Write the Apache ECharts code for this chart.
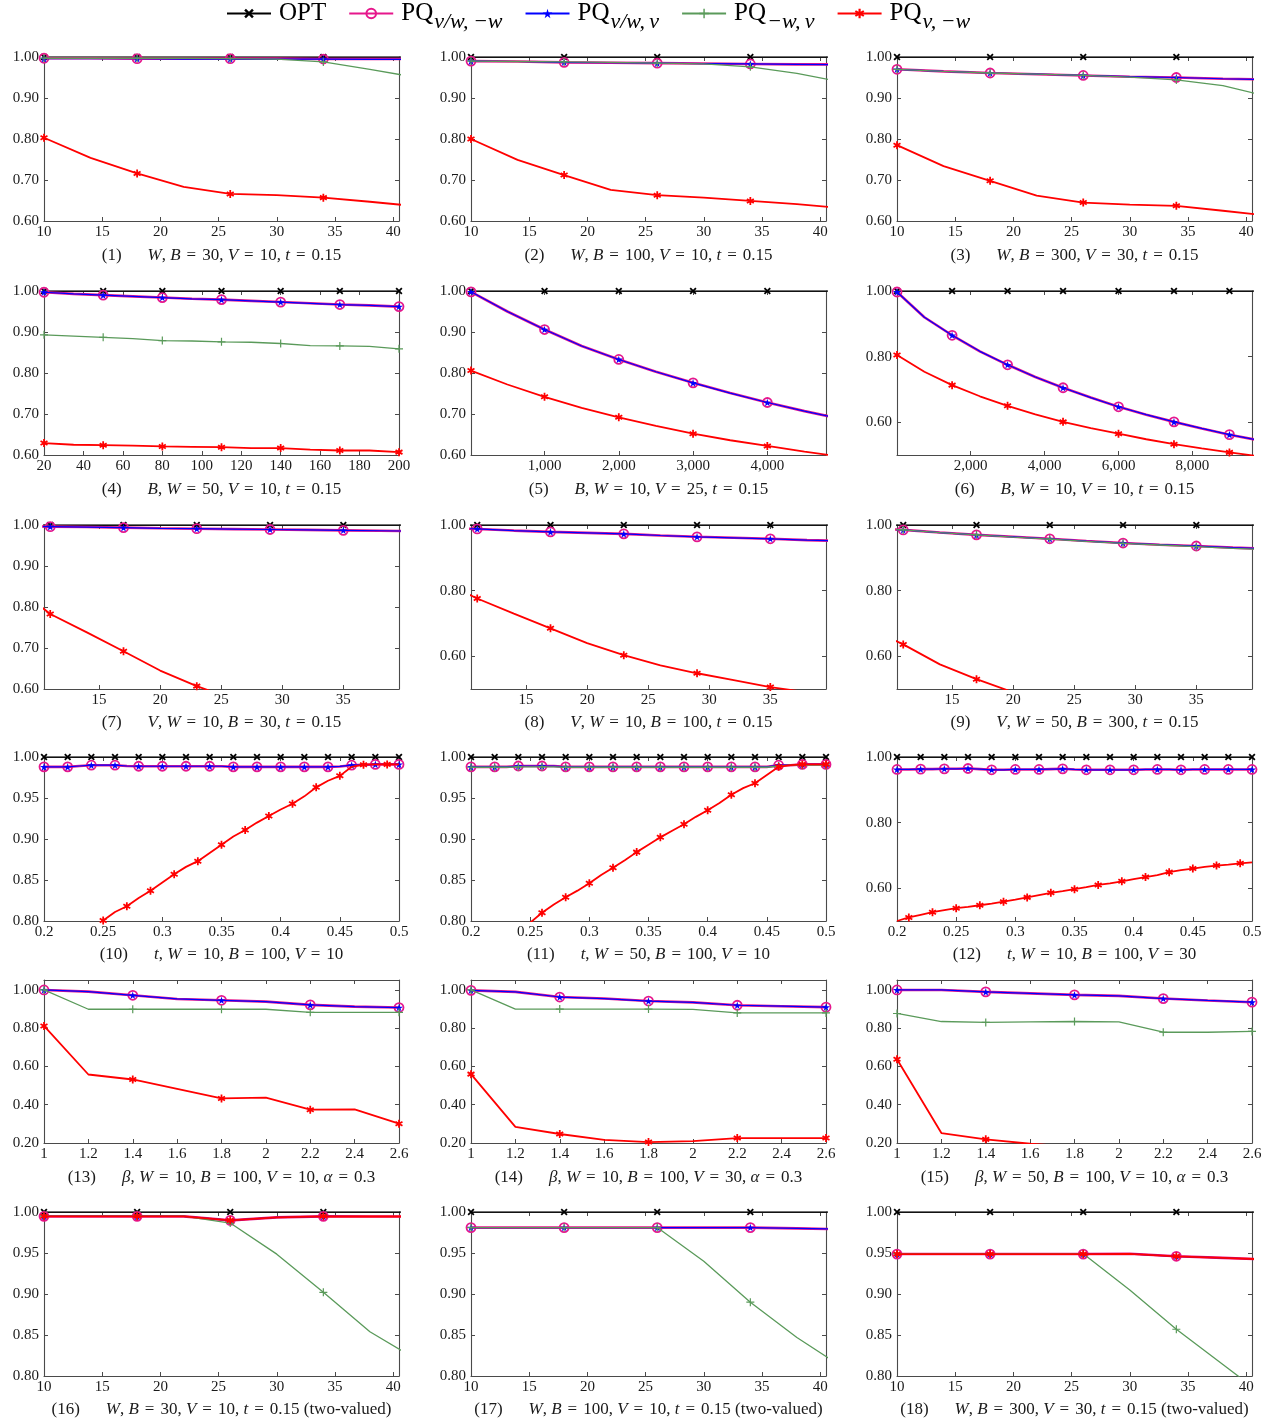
<!DOCTYPE html>
<html><head><meta charset="utf-8">
<script src="https://cdn.jsdelivr.net/npm/echarts@6/dist/echarts.min.js"></script>
<style>html,body{margin:0;padding:0;background:#fff}#c{width:1278px;height:1424px}</style>
</head><body><div id="c"></div>
<script>
// ---------- x values ----------
const xW = [10,14,18,22,26,30,34,38,42];
const xB4 = [20,35,50,65,80,95,110,125,140,155,170,185,200];
const xB5 = [10,500,1000,1500,2000,2500,3000,3500,4000,4500,5000];
const xB6 = [10,750,1500,2250,3000,3750,4500,5250,6000,6750,7500,8250,9000,9750];
const xV = [8,11,14,17,20,23,26,29,32,35,38,41];
const xT = [0.20,0.21,0.22,0.23,0.24,0.25,0.26,0.27,0.28,0.29,0.30,0.31,0.32,0.33,0.34,0.35,0.36,0.37,0.38,0.39,0.40,0.41,0.42,0.43,0.44,0.45,0.46,0.47,0.48,0.49,0.50];
const xBeta = [1,1.2,1.4,1.6,1.8,2,2.2,2.4,2.6];

// ---------- tick labels ----------
const tickW = [10,15,20,25,30,35,40];
const tickB4 = [20,40,60,80,100,120,140,160,180,200];
const tickB5 = [1000,2000,3000,4000];
const tickB6 = [2000,4000,6000,8000];
const tickV = [15,20,25,30,35];
const tickT = [0.2,0.25,0.3,0.35,0.4,0.45,0.5];
const tickBeta = [1,1.2,1.4,1.6,1.8,2,2.2,2.4,2.6];
const tickY60 = [0.6,0.7,0.8,0.9,1.0];
const tickY50 = [0.6,0.8,1.0];
const tickY80 = [0.8,0.85,0.9,0.95,1.0];
const tickY20 = [0.2,0.4,0.6,0.8,1.0];

// ---------- series values ----------
const one = n => Array(n).fill(1.0);
// (1)
const p1_opt = [1,1,1,1,1,1,1,1,1];
const p1_mag = [0.997,0.997,0.996,0.996,0.996,0.996,0.995,0.995,0.995];
const p1_blu = [0.996,0.996,0.996,0.995,0.995,0.995,0.995,0.994,0.994];
const p1_grn = [0.997,0.997,0.997,0.997,0.996,0.995,0.988,0.970,0.950];
const p1_red = [0.803,0.754,0.716,0.683,0.666,0.663,0.657,0.647,0.636];
// (2)
const p2_opt = [1,1,1,1,1,1,1,1,1];
const p2_mag = [0.990,0.989,0.987,0.986,0.985,0.984,0.983,0.982,0.982];
const p2_blu = [0.990,0.989,0.987,0.986,0.985,0.984,0.983,0.982,0.981];
const p2_grn = [0.990,0.989,0.988,0.987,0.985,0.983,0.976,0.960,0.938];
const p2_red = [0.800,0.749,0.712,0.676,0.663,0.657,0.649,0.641,0.631];
// (3)
const p3_opt = [1,1,1,1,1,1,1,1,1];
const p3_mag = [0.970,0.965,0.961,0.958,0.955,0.952,0.950,0.947,0.945];
const p3_blu = [0.970,0.965,0.961,0.958,0.955,0.952,0.950,0.947,0.945];
const p3_grn = [0.970,0.965,0.961,0.958,0.955,0.951,0.944,0.930,0.903];
const p3_red = [0.785,0.734,0.698,0.662,0.645,0.640,0.637,0.625,0.613];
// (4)
const p4_opt = [1,1,1,1,1,1,1,1,1,1,1,1,1];
const p4_mag = [0.997,0.993,0.990,0.987,0.984,0.981,0.979,0.976,0.973,0.970,0.967,0.965,0.962];
const p4_blu = [0.997,0.993,0.990,0.987,0.984,0.981,0.979,0.976,0.973,0.970,0.967,0.965,0.962];
const p4_grn = [0.893,0.890,0.887,0.884,0.879,0.878,0.876,0.875,0.872,0.867,0.866,0.865,0.859];
const p4_red = [0.629,0.625,0.624,0.623,0.621,0.620,0.619,0.617,0.617,0.613,0.611,0.611,0.607];
// (5)
const p5_opt = [1,1,1,1,1,1,1,1,1,1,1];
const p5_mag = [0.998,0.950,0.906,0.866,0.833,0.803,0.776,0.751,0.728,0.707,0.688];
const p5_blu = [0.998,0.950,0.906,0.866,0.833,0.803,0.776,0.751,0.728,0.707,0.688];
const p5_red = [0.806,0.772,0.742,0.715,0.692,0.671,0.652,0.636,0.622,0.608,0.596];
// (6)
const p6_opt = [1,1,1,1,1,1,1,1,1,1,1,1,1,1];
const p6_mag = [0.997,0.920,0.865,0.816,0.775,0.738,0.705,0.675,0.647,0.623,0.601,0.581,0.562,0.546];
const p6_blu = [0.997,0.920,0.865,0.816,0.775,0.738,0.705,0.675,0.647,0.623,0.601,0.581,0.562,0.546];
const p6_red = [0.805,0.754,0.713,0.679,0.650,0.624,0.601,0.582,0.565,0.548,0.533,0.520,0.508,0.497];
// (7)
const p7_opt = [1,1,1,1,1,1,1,1,1,1,1,1];
const p7_mag = [0.997,0.996,0.995,0.9935,0.992,0.991,0.990,0.989,0.988,0.987,0.986,0.985];
const p7_blu = [0.997,0.996,0.995,0.9935,0.992,0.991,0.990,0.989,0.988,0.987,0.986,0.985];
const p7_red = [0.854,0.783,0.738,0.692,0.645,0.607,0.575,0.545,0.520,0.500,0.480,0.460];
// (8)
const p8_opt = [1,1,1,1,1,1,1,1,1,1,1,1];
const p8_mag = [0.991,0.988,0.983,0.979,0.976,0.973,0.968,0.964,0.961,0.958,0.954,0.951];
const p8_blu = [0.991,0.988,0.983,0.979,0.976,0.973,0.968,0.964,0.961,0.958,0.954,0.951];
const p8_red = [0.830,0.776,0.730,0.685,0.640,0.603,0.572,0.548,0.527,0.506,0.490,0.475];
// (9)
const p9_opt = [1,1,1,1,1,1,1,1,1,1,1,1];
const p9_mag = [0.990,0.985,0.977,0.970,0.964,0.958,0.951,0.945,0.940,0.936,0.931,0.927];
const p9_blu = [0.990,0.985,0.977,0.970,0.964,0.958,0.951,0.945,0.940,0.936,0.931,0.927];
const p9_grn = [0.990,0.985,0.977,0.970,0.963,0.957,0.950,0.944,0.939,0.934,0.929,0.925];
const p9_red = [0.690,0.636,0.575,0.530,0.490,0.460,0.440,0.420,0.400,0.380,0.370,0.360];
// (10)
const p10_opt = one(31);
const p10_mag = [0.988,0.988,0.988,0.989,0.990,0.990,0.990,0.989,0.9887,0.9887,0.9887,0.9887,0.9887,0.9887,0.9887,0.9887,0.988,0.988,0.988,0.988,0.988,0.988,0.988,0.988,0.988,0.9885,0.990,0.9905,0.991,0.991,0.991];
const p10_blu = [0.988,0.988,0.988,0.989,0.990,0.990,0.990,0.989,0.9887,0.9887,0.9887,0.9887,0.9887,0.9887,0.9887,0.9887,0.988,0.988,0.988,0.988,0.988,0.988,0.988,0.988,0.988,0.9885,0.990,0.9905,0.991,0.991,0.991];
const p10_red = [0.720,0.735,0.750,0.765,0.785,0.8005,0.811,0.818,0.828,0.837,0.847,0.857,0.866,0.873,0.883,0.893,0.903,0.911,0.920,0.928,0.936,0.943,0.952,0.963,0.971,0.977,0.988,0.9906,0.991,0.991,0.991];
// (11)
const p11_opt = one(31);
const p11_mag = [0.988,0.988,0.988,0.988,0.989,0.989,0.989,0.989,0.988,0.988,0.988,0.988,0.988,0.988,0.988,0.988,0.988,0.988,0.988,0.988,0.988,0.988,0.988,0.988,0.988,0.988,0.990,0.990,0.991,0.991,0.991];
const p11_blu = [0.988,0.988,0.988,0.988,0.989,0.989,0.989,0.989,0.988,0.988,0.988,0.988,0.988,0.988,0.988,0.988,0.988,0.988,0.988,0.988,0.988,0.988,0.988,0.988,0.988,0.988,0.990,0.990,0.991,0.991,0.991];
const p11_grn = [0.9875,0.9875,0.9875,0.9875,0.988,0.988,0.988,0.988,0.9875,0.9875,0.9875,0.9875,0.9875,0.9875,0.9875,0.9875,0.9875,0.9875,0.9875,0.9875,0.9875,0.9875,0.9875,0.9875,0.9875,0.9875,0.989,0.990,0.990,0.990,0.990];
const p11_red = [0.730,0.745,0.760,0.775,0.788,0.798,0.810,0.820,0.829,0.837,0.846,0.856,0.865,0.874,0.884,0.893,0.902,0.910,0.918,0.927,0.935,0.944,0.954,0.962,0.968,0.978,0.988,0.990,0.991,0.991,0.991];
// (12)
const p12_opt = one(31);
const p12_mag = [0.962,0.962,0.963,0.963,0.964,0.964,0.965,0.963,0.961,0.961,0.962,0.962,0.962,0.963,0.964,0.962,0.961,0.961,0.961,0.961,0.961,0.962,0.962,0.962,0.961,0.962,0.962,0.962,0.962,0.962,0.962];
const p12_blu = [0.962,0.962,0.963,0.963,0.964,0.964,0.965,0.963,0.961,0.961,0.962,0.962,0.962,0.963,0.964,0.962,0.961,0.961,0.961,0.961,0.961,0.962,0.962,0.962,0.961,0.962,0.962,0.962,0.962,0.962,0.962];
const p12_red = [0.500,0.511,0.519,0.527,0.533,0.539,0.543,0.548,0.553,0.559,0.565,0.572,0.579,0.586,0.591,0.597,0.603,0.610,0.615,0.621,0.628,0.634,0.640,0.649,0.655,0.660,0.665,0.669,0.672,0.676,0.679];
// (13)
const p13_mag = [1.0,0.991,0.972,0.953,0.946,0.939,0.922,0.913,0.908];
const p13_blu = [1.0,0.991,0.972,0.953,0.946,0.939,0.922,0.913,0.908];
const p13_grn = [1.0,0.899,0.899,0.899,0.899,0.899,0.883,0.883,0.883];
const p13_red = [0.812,0.558,0.532,0.483,0.433,0.437,0.374,0.376,0.301];
// (14)
const p14_mag = [0.998,0.990,0.963,0.955,0.942,0.935,0.920,0.915,0.910];
const p14_blu = [0.998,0.990,0.963,0.955,0.942,0.935,0.920,0.915,0.910];
const p14_grn = [1.0,0.900,0.900,0.900,0.900,0.898,0.880,0.880,0.880];
const p14_red = [0.560,0.284,0.247,0.216,0.205,0.210,0.226,0.226,0.226];
// (15)
const p15_mag = [1.0,1.0,0.990,0.982,0.974,0.969,0.955,0.945,0.936];
const p15_blu = [1.0,1.0,0.990,0.982,0.974,0.969,0.955,0.945,0.936];
const p15_grn = [0.877,0.835,0.830,0.833,0.835,0.833,0.779,0.779,0.783];
const p15_red = [0.638,0.252,0.219,0.196,0.180,0.170,0.160,0.160,0.150];
// (16)
const p16_opt = [1,1,1,1,1,1,1,1,1];
const p16_mag = [0.9947,0.9947,0.9947,0.9947,0.9898,0.9935,0.9947,0.9945,0.9945];
const p16_blu = [0.9947,0.9947,0.9947,0.9947,0.9898,0.9935,0.9947,0.9945,0.9945];
const p16_grn = [0.995,0.995,0.995,0.995,0.9865,0.9486,0.902,0.854,0.820];
const p16_red = [0.9947,0.9947,0.9947,0.9947,0.9898,0.9935,0.9947,0.9945,0.9945];
// (17)
const p17_opt = [1,1,1,1,1,1,1,1,1];
const p17_mag = [0.981,0.981,0.981,0.981,0.981,0.981,0.981,0.980,0.979];
const p17_blu = [0.981,0.981,0.981,0.981,0.981,0.981,0.981,0.980,0.979];
const p17_grn = [0.981,0.981,0.981,0.981,0.981,0.940,0.890,0.847,0.810];
// (18)
const p18_opt = [1,1,1,1,1,1,1,1,1];
const p18_mag = [0.9487,0.9487,0.9487,0.9487,0.9487,0.949,0.946,0.944,0.942];
const p18_blu = [0.9487,0.9487,0.9487,0.9487,0.9487,0.949,0.946,0.944,0.942];
const p18_grn = [0.949,0.949,0.949,0.949,0.949,0.905,0.857,0.814,0.771];
const p18_red = [0.9487,0.9487,0.9487,0.9487,0.9487,0.949,0.946,0.944,0.942];

// ---------- captions ----------
const captions = [
 ['(1)','{i|W}, {i|B}{e|=}30, {i|V}{e|=}10, {i|t}{e|=}0.15'],
 ['(2)','{i|W}, {i|B}{e|=}100, {i|V}{e|=}10, {i|t}{e|=}0.15'],
 ['(3)','{i|W}, {i|B}{e|=}300, {i|V}{e|=}30, {i|t}{e|=}0.15'],
 ['(4)','{i|B}, {i|W}{e|=}50, {i|V}{e|=}10, {i|t}{e|=}0.15'],
 ['(5)','{i|B}, {i|W}{e|=}10, {i|V}{e|=}25, {i|t}{e|=}0.15'],
 ['(6)','{i|B}, {i|W}{e|=}10, {i|V}{e|=}10, {i|t}{e|=}0.15'],
 ['(7)','{i|V}, {i|W}{e|=}10, {i|B}{e|=}30, {i|t}{e|=}0.15'],
 ['(8)','{i|V}, {i|W}{e|=}10, {i|B}{e|=}100, {i|t}{e|=}0.15'],
 ['(9)','{i|V}, {i|W}{e|=}50, {i|B}{e|=}300, {i|t}{e|=}0.15'],
 ['(10)','{i|t}, {i|W}{e|=}10, {i|B}{e|=}100, {i|V}{e|=}10'],
 ['(11)','{i|t}, {i|W}{e|=}50, {i|B}{e|=}100, {i|V}{e|=}10'],
 ['(12)','{i|t}, {i|W}{e|=}10, {i|B}{e|=}100, {i|V}{e|=}30'],
 ['(13)','{i|β}, {i|W}{e|=}10, {i|B}{e|=}100, {i|V}{e|=}10, {i|α}{e|=}0.3'],
 ['(14)','{i|β}, {i|W}{e|=}10, {i|B}{e|=}100, {i|V}{e|=}30, {i|α}{e|=}0.3'],
 ['(15)','{i|β}, {i|W}{e|=}50, {i|B}{e|=}100, {i|V}{e|=}10, {i|α}{e|=}0.3'],
 ['(16)','{i|W}, {i|B}{e|=}30, {i|V}{e|=}10, {i|t}{e|=}0.15 (two-valued)'],
 ['(17)','{i|W}, {i|B}{e|=}100, {i|V}{e|=}10, {i|t}{e|=}0.15 (two-valued)'],
 ['(18)','{i|W}, {i|B}{e|=}300, {i|V}{e|=}30, {i|t}{e|=}0.15 (two-valued)']
];

const seriesNames = ['OPT','PQ_a','PQ_b','PQ_c','PQ_d'];
const legendLabels = {
  'OPT':'{m|OPT}',
  'PQ_a':'{m|PQ}{s|v/w,\u2009\u2212w}',
  'PQ_b':'{m|PQ}{s|v/w,\u2009v}',
  'PQ_c':'{m|PQ}{s|\u2212w,\u2009v}',
  'PQ_d':'{m|PQ}{s|v,\u2009\u2212w}'
};

// ---------- panels ----------
const panels = [
 {x:xW, xr:[10,40.5], xt:tickW, yr:[0.6,1.0], yt:tickY60, s:[p1_opt,p1_mag,p1_blu,p1_grn,p1_red]},
 {x:xW, xr:[10,40.5], xt:tickW, yr:[0.6,1.0], yt:tickY60, s:[p2_opt,p2_mag,p2_blu,p2_grn,p2_red]},
 {x:xW, xr:[10,40.5], xt:tickW, yr:[0.6,1.0], yt:tickY60, s:[p3_opt,p3_mag,p3_blu,p3_grn,p3_red]},
 {x:xB4, xr:[20,200], xt:tickB4, yr:[0.6,1.0], yt:tickY60, s:[p4_opt,p4_mag,p4_blu,p4_grn,p4_red]},
 {x:xB5, xr:[10,4790], xt:tickB5, yr:[0.6,1.0], yt:tickY60, comma:true, s:[p5_opt,p5_mag,p5_blu,null,p5_red]},
 {x:xB6, xr:[10,9610], xt:tickB6, yr:[0.5,1.0], yt:tickY50, comma:true, s:[p6_opt,p6_mag,p6_blu,null,p6_red]},
 {x:xV, xr:[10.49,39.56], xt:tickV, yr:[0.6,1.0], yt:tickY60, ph:[1,1,1,1,1], s:[p7_opt,p7_mag,p7_blu,null,p7_red]},
 {x:xV, xr:[10.49,39.56], xt:tickV, yr:[0.5,1.0], yt:tickY50, ph:[1,1,1,1,1], s:[p8_opt,p8_mag,p8_blu,null,p8_red]},
 {x:xV, xr:[10.49,39.56], xt:tickV, yr:[0.5,1.0], yt:tickY50, ph:[1,1,1,1,1], s:[p9_opt,p9_mag,p9_blu,p9_grn,p9_red]},
 {x:xT, xr:[0.2,0.5], xt:tickT, yr:[0.8,1.0], yt:tickY80, ph:[0,0,0,0,1], s:[p10_opt,p10_mag,p10_blu,null,p10_red]},
 {x:xT, xr:[0.2,0.5], xt:tickT, yr:[0.8,1.0], yt:tickY80, s:[p11_opt,p11_mag,p11_blu,p11_grn,p11_red]},
 {x:xT, xr:[0.2,0.5], xt:tickT, yr:[0.5,1.0], yt:tickY50, ph:[0,0,0,0,1], s:[p12_opt,p12_mag,p12_blu,null,p12_red]},
 {x:xBeta, xr:[1,2.6], xt:tickBeta, yr:[0.2,1.052], yt:tickY20, s:[null,p13_mag,p13_blu,p13_grn,p13_red]},
 {x:xBeta, xr:[1,2.6], xt:tickBeta, yr:[0.2,1.052], yt:tickY20, s:[null,p14_mag,p14_blu,p14_grn,p14_red]},
 {x:xBeta, xr:[1,2.6], xt:tickBeta, yr:[0.2,1.052], yt:tickY20, s:[null,p15_mag,p15_blu,p15_grn,p15_red]},
 {x:xW, xr:[10,40.5], xt:tickW, yr:[0.8,1.0], yt:tickY80, s:[p16_opt,p16_mag,p16_blu,p16_grn,p16_red]},
 {x:xW, xr:[10,40.5], xt:tickW, yr:[0.8,1.0], yt:tickY80, s:[p17_opt,p17_mag,p17_blu,p17_grn,null]},
 {x:xW, xr:[10,40.5], xt:tickW, yr:[0.8,1.0], yt:tickY80, s:[p18_opt,p18_mag,p18_blu,p18_grn,p18_red]}
];

// ---------- layout ----------
const colL = [44, 471, 897];
const plotW = 355;
const rowT = [57, 291, 525, 757, 980, 1212];
const rowB = [221, 455, 689, 921, 1143, 1376];
const capY = [256, 490, 723, 955, 1178, 1410];
const FONT = 'Liberation Serif';
const AX = '#4a4a4a';

function barPath(angles, L, w){
  let s = '';
  for (const a of angles){
    const r = a*Math.PI/180, dx = Math.cos(r), dy = Math.sin(r), nx = -dy, ny = dx;
    const pts = [[L/2*dx+w/2*nx, L/2*dy+w/2*ny],[-L/2*dx+w/2*nx,-L/2*dy+w/2*ny],[-L/2*dx-w/2*nx,-L/2*dy-w/2*ny],[L/2*dx-w/2*nx,L/2*dy-w/2*ny]];
    s += 'M' + pts.map(p => p[0].toFixed(3)+','+p[1].toFixed(3)).join('L') + 'Z';
  }
  return 'path://' + s;
}
const SYM_CROSS = barPath([45,135], 10, 2.2);
const SYM_PLUS = barPath([0,90], 10, 1.5);
const SYM_AST = barPath([90,30,150], 10, 2.2);
const SYM_STAR = 'path://M50,0L61,35L98,35L68,57L79,91L50,70L21,91L32,57L2,35L39,35Z';

const styles = [
  {color:'#000000', lw:1.6, symbol:SYM_CROSS, size:7},
  {color:'#e6178c', lw:2.6, symbol:'circle', size:9, hollow:true},
  {color:'#0000ff', lw:1.2, symbol:SYM_STAR, size:8},
  {color:'#5a9a5a', lw:1.3, symbol:SYM_PLUS, size:8},
  {color:'#ff0000', lw:1.8, symbol:SYM_AST, size:8}
];

const grids = [], xAxes = [], yAxes = [], series = [], graphics = [];
const fmtNum = (v, comma) => comma ? Number(v).toLocaleString('en-US') : String(+Number(v).toFixed(4));

panels.forEach((p, gi) => {
  const c = gi % 3, r = Math.floor(gi / 3);
  grids.push({left: colL[c], top: rowT[r], width: plotW, height: rowB[r]-rowT[r]});
  const lineS = {show:true, onZero:false, lineStyle:{color:AX, width:1.1}};
  const tickS = (vals) => ({show:true, inside:true, length:4, customValues: vals, lineStyle:{color:AX, width:1}});
  xAxes.push({gridIndex:gi, type:'value', position:'bottom', min:p.xr[0], max:p.xr[1], axisLine:lineS,
    axisTick:tickS(p.xt), splitLine:{show:false},
    axisLabel:{customValues:p.xt, margin:4, color:'#1a1a1a', fontFamily:FONT, fontSize:15, formatter:v=>fmtNum(v,p.comma)}});
  xAxes.push({gridIndex:gi, type:'value', position:'top', min:p.xr[0], max:p.xr[1], axisLine:lineS,
    axisTick:tickS(p.xt), splitLine:{show:false}, axisLabel:{show:false}});
  yAxes.push({gridIndex:gi, type:'value', position:'left', min:p.yr[0], max:p.yr[1], axisLine:lineS,
    axisTick:tickS(p.yt), splitLine:{show:false},
    axisLabel:{customValues:p.yt, margin:5, color:'#1a1a1a', fontFamily:FONT, fontSize:15, formatter:v=>Number(v).toFixed(2)}});
  yAxes.push({gridIndex:gi, type:'value', position:'right', min:p.yr[0], max:p.yr[1], axisLine:lineS,
    axisTick:tickS(p.yt), splitLine:{show:false}, axisLabel:{show:false}});
  p.s.forEach((ys, k) => {
    if (!ys) return;
    const st = styles[k];
    const ph = p.ph ? p.ph[k] : 0;
    series.push({
      type:'line', name:seriesNames[k], xAxisIndex:gi*2, yAxisIndex:gi*2,
      data: p.x.map((xv, i) => (i % 2 === ph) ? [xv, ys[i]] : {value:[xv, ys[i]], symbol:'none'}),
      symbol: st.symbol, symbolSize: st.size, symbolKeepAspect:true, showAllSymbol:true,
      lineStyle:{color:st.color, width:st.lw},
      itemStyle: st.hollow ? {color:'rgba(255,255,255,0)', borderColor:st.color, borderWidth:1.8} : {color:st.color},
      emphasis:{disabled:true}, silent:true, clip:true, z:2+k
    });
  });
  graphics.push({type:'text', x: colL[c] + plotW/2, y: capY[r], silent:true,
    style:{text:'{n|'+captions[gi][0]+'}{g|}'+captions[gi][1], align:'center', verticalAlign:'middle',
      fontFamily:FONT, fontSize:17, fill:'#1a1a1a',
      rich:{n:{fontFamily:FONT, fontSize:17, fill:'#1a1a1a'}, g:{width:26},
        i:{fontFamily:FONT, fontSize:17, fontStyle:'italic', fill:'#1a1a1a'},
        e:{fontFamily:FONT, fontSize:17, fill:'#1a1a1a', padding:[0,6,0,6]}}}});
});

const chart = echarts.init(document.getElementById('c'), null, {renderer:'canvas'});
chart.setOption({
  animation:false,
  backgroundColor:'#ffffff',
  legend:{
    data: seriesNames, left:221, top:0, padding:[1,5,5,5], itemWidth:44, itemHeight:12, itemGap:22,
    formatter: n => legendLabels[n],
    textStyle:{fontFamily:FONT, fontSize:25, color:'#000',
      rich:{m:{fontFamily:FONT, fontSize:25, color:'#000', padding:[0,0,0,3]}, s:{fontFamily:FONT, fontSize:22, fontStyle:'italic', color:'#000', padding:[18,0,0,1]}}}
  },
  grid: grids, xAxis: xAxes, yAxis: yAxes, series: series, graphic: graphics
});
</script></body></html>
